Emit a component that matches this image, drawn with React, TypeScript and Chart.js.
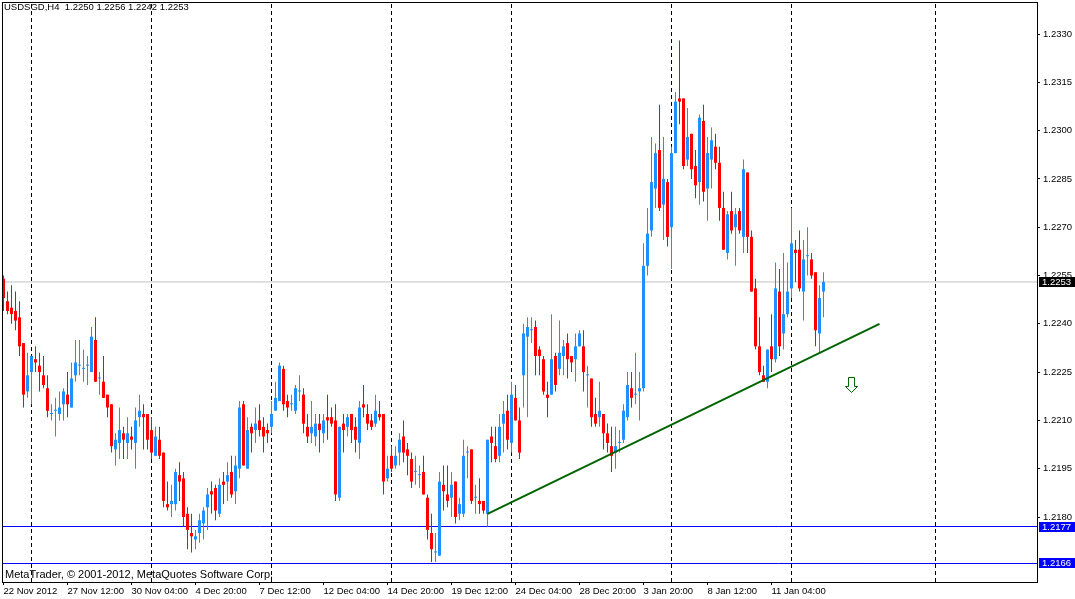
import { useEffect, useRef } from "react"
import { Chart, registerables } from "chart.js"

Chart.register(...registerables)

const symbol = "USDSGD"
const period = "H4"
const copyright = "MetaTrader, \u00a9 2001-2012, MetaQuotes Software Corp."

// H4 bars, oldest first (22 Nov 2012 20:00 ... 15 Jan 2013 04:00)
const opens = [
  1.2254, 1.2247, 1.2245, 1.2244, 1.2242, 1.2234, 1.2219, 1.2225, 1.2229, 1.2227,
  1.2224, 1.222, 1.2212, 1.2213, 1.2212, 1.2215, 1.2218, 1.2214, 1.2224, 1.2227,
  1.2226, 1.2227, 1.2225, 1.2235, 1.2223, 1.2222, 1.2218, 1.2215, 1.2201, 1.2203,
  1.2206, 1.2203, 1.2205, 1.2203, 1.2211, 1.2212, 1.2212, 1.2207, 1.2199, 1.2204,
  1.22, 1.2184, 1.2184, 1.2184, 1.2193, 1.2192, 1.2181, 1.2175, 1.2173, 1.2175,
  1.2178, 1.2183, 1.2188, 1.2189, 1.2181, 1.2191, 1.2191, 1.2194, 1.2188, 1.2195,
  1.2215, 1.2195, 1.2208, 1.2207, 1.221, 1.2208, 1.2207, 1.2208, 1.2213, 1.2216,
  1.2226, 1.2216, 1.2215, 1.2213, 1.2219, 1.2218, 1.2208, 1.2206, 1.2205, 1.2209,
  1.2206, 1.2211, 1.2211, 1.221, 1.2186, 1.2209, 1.2208, 1.2212, 1.2208, 1.2203,
  1.2215, 1.2212, 1.221, 1.2209, 1.2212, 1.2212, 1.2192, 1.2199, 1.2196, 1.22,
  1.2205, 1.2201, 1.2198, 1.2194, 1.2193, 1.2194, 1.2186, 1.2175, 1.2169, 1.2168,
  1.219, 1.2187, 1.2186, 1.2191, 1.2181, 1.2181, 1.22, 1.2201, 1.2186, 1.2185,
  1.2185, 1.2181, 1.2205, 1.2202, 1.2199, 1.2209, 1.2213, 1.2203, 1.2217, 1.221,
  1.2224, 1.2236, 1.2238, 1.2239, 1.2232, 1.2229, 1.2218, 1.2218, 1.223, 1.2226,
  1.223, 1.2234, 1.223, 1.2229, 1.2233, 1.2233, 1.2224, 1.2223, 1.2212, 1.2211,
  1.2212, 1.2206, 1.2202, 1.22, 1.2203, 1.2204, 1.2211, 1.222, 1.2218, 1.2219,
  1.222, 1.2258, 1.2269, 1.2282, 1.2294, 1.2277, 1.2284, 1.227, 1.2293, 1.231,
  1.231, 1.2291, 1.2299, 1.2289, 1.2284, 1.2303, 1.2282, 1.2291, 1.2295, 1.229,
  1.2276, 1.2262, 1.2275, 1.227, 1.2275, 1.2267, 1.2287, 1.2267, 1.2251, 1.2233,
  1.2224, 1.2222, 1.2233, 1.2229, 1.225, 1.2237, 1.2243, 1.2251, 1.2263, 1.2263,
  1.225, 1.2261, 1.226, 1.2256, 1.2237, 1.225,
]
const highs = [
  1.2255, 1.225, 1.2252, 1.225, 1.2247, 1.2234, 1.2231, 1.223, 1.2233, 1.2231,
  1.223, 1.2224, 1.2215, 1.2217, 1.2219, 1.222, 1.2225, 1.2228, 1.2235, 1.2235,
  1.2232, 1.223, 1.2239, 1.2242, 1.2225, 1.223, 1.2218, 1.2215, 1.2206, 1.2214,
  1.2208, 1.2211, 1.2208, 1.2214, 1.2218, 1.2215, 1.2212, 1.2211, 1.2208, 1.2208,
  1.22, 1.2191, 1.219, 1.2195, 1.2197, 1.2194, 1.2183, 1.2181, 1.2176, 1.2181,
  1.2183, 1.2189, 1.2191, 1.219, 1.2192, 1.2194, 1.2197, 1.2199, 1.2199, 1.2216,
  1.2216, 1.2211, 1.2209, 1.2214, 1.2215, 1.2211, 1.2209, 1.2216, 1.2222, 1.2228,
  1.2227, 1.2218, 1.2218, 1.2221, 1.2224, 1.222, 1.2212, 1.2216, 1.2212, 1.2212,
  1.2212, 1.2218, 1.2214, 1.2215, 1.2208, 1.2212, 1.2212, 1.2212, 1.2211, 1.2216,
  1.2221, 1.2215, 1.2212, 1.2218, 1.2216, 1.2212, 1.2199, 1.2202, 1.2202, 1.2206,
  1.221, 1.2203, 1.22, 1.2199, 1.2196, 1.2199, 1.2187, 1.2181, 1.2175, 1.2194,
  1.2196, 1.2196, 1.2194, 1.2191, 1.2186, 1.2204, 1.2202, 1.2201, 1.219, 1.2192,
  1.2185, 1.2204, 1.2208, 1.2208, 1.2212, 1.2216, 1.2218, 1.2222, 1.2221, 1.2214,
  1.224, 1.2242, 1.2242, 1.2241, 1.2233, 1.223, 1.2222, 1.2243, 1.2231, 1.2241,
  1.2235, 1.2237, 1.223, 1.2237, 1.2238, 1.2238, 1.2227, 1.2223, 1.2217, 1.2222,
  1.2212, 1.2209, 1.2208, 1.2208, 1.2207, 1.2215, 1.2225, 1.2225, 1.2231, 1.2225,
  1.2265, 1.2276, 1.2298, 1.2296, 1.2308, 1.2298, 1.2285, 1.2295, 1.2312, 1.2328,
  1.231, 1.2307, 1.2299, 1.2294, 1.2305, 1.2308, 1.2298, 1.2301, 1.2299, 1.2295,
  1.2281, 1.2275, 1.2281, 1.2276, 1.2276, 1.2291, 1.2287, 1.2269, 1.2254, 1.2242,
  1.2227, 1.2232, 1.2243, 1.2259, 1.2257, 1.2262, 1.2259, 1.2276, 1.2266, 1.2269,
  1.2266, 1.227, 1.2262, 1.2256, 1.2252, 1.2256,
]
const lows = [
  1.2244, 1.2243, 1.224, 1.2238, 1.223, 1.2214, 1.2217, 1.2215, 1.2225, 1.2219,
  1.222, 1.2211, 1.221, 1.2205, 1.221, 1.221, 1.2211, 1.2214, 1.2222, 1.2224,
  1.2222, 1.2221, 1.2225, 1.2222, 1.2218, 1.2217, 1.2211, 1.22, 1.2196, 1.2198,
  1.2198, 1.2198, 1.2201, 1.2195, 1.2208, 1.2201, 1.2201, 1.2198, 1.2199, 1.2198,
  1.2183, 1.2182, 1.218, 1.2182, 1.2185, 1.2177, 1.217, 1.2169, 1.217, 1.2172,
  1.2173, 1.2176, 1.2181, 1.2179, 1.218, 1.2184, 1.2185, 1.2186, 1.2184, 1.2192,
  1.2196, 1.2195, 1.22, 1.2203, 1.2205, 1.22, 1.2203, 1.2206, 1.2213, 1.2216,
  1.2213, 1.2211, 1.2213, 1.2212, 1.2216, 1.2206, 1.2203, 1.2203, 1.2202, 1.22,
  1.2203, 1.2204, 1.2208, 1.2185, 1.2185, 1.22, 1.2205, 1.2203, 1.22, 1.2198,
  1.2211, 1.2207, 1.2207, 1.2208, 1.221, 1.2187, 1.2191, 1.2194, 1.2195, 1.2196,
  1.2197, 1.2193, 1.2189, 1.219, 1.2189, 1.2187, 1.2173, 1.2166, 1.2166, 1.2168,
  1.2182, 1.2183, 1.218, 1.2178, 1.2179, 1.218, 1.2192, 1.2184, 1.2181, 1.2181,
  1.2181, 1.2177, 1.2197, 1.2197, 1.2197, 1.22, 1.2201, 1.22, 1.221, 1.2198,
  1.2214, 1.2211, 1.2234, 1.2224, 1.2224, 1.2218, 1.2211, 1.2218, 1.2219, 1.2224,
  1.2224, 1.2223, 1.2225, 1.2222, 1.2233, 1.2219, 1.2214, 1.2208, 1.2208, 1.2208,
  1.2201, 1.22, 1.2194, 1.2195, 1.22, 1.2203, 1.221, 1.2214, 1.2215, 1.221,
  1.2219, 1.2255, 1.2267, 1.2276, 1.2275, 1.2266, 1.2264, 1.2257, 1.2293, 1.2302,
  1.2288, 1.2289, 1.2285, 1.2279, 1.2277, 1.2278, 1.2272, 1.2282, 1.2288, 1.2272,
  1.2263, 1.226, 1.2268, 1.2258, 1.2268, 1.2262, 1.2262, 1.225, 1.2232, 1.2224,
  1.2222, 1.222, 1.2225, 1.2228, 1.223, 1.2232, 1.2242, 1.2248, 1.2253, 1.225,
  1.2241, 1.2255, 1.2254, 1.2233, 1.2231, 1.2242,
]
const closes = [
  1.2248, 1.2244, 1.2243, 1.2241, 1.2233, 1.2218, 1.2224, 1.223, 1.2228, 1.2225,
  1.2221, 1.2213, 1.2212, 1.2213, 1.2214, 1.2219, 1.2215, 1.2223, 1.2228, 1.2227,
  1.2226, 1.2227, 1.2236, 1.2222, 1.2223, 1.2217, 1.2214, 1.2202, 1.2204, 1.2207,
  1.2204, 1.2206, 1.2204, 1.221, 1.2213, 1.2211, 1.2204, 1.22, 1.2205, 1.2199,
  1.2185, 1.2183, 1.2185, 1.2194, 1.2191, 1.218, 1.2176, 1.2174, 1.2174, 1.2179,
  1.2182, 1.2187, 1.2187, 1.2182, 1.219, 1.219, 1.2193, 1.2187, 1.2196, 1.2214,
  1.2196, 1.2207, 1.2206, 1.2209, 1.2207, 1.2205, 1.2206, 1.2212, 1.2217, 1.2227,
  1.2215, 1.2214, 1.2215, 1.222, 1.2219, 1.2209, 1.2205, 1.2208, 1.2209, 1.2207,
  1.221, 1.221, 1.2209, 1.2187, 1.2208, 1.2207, 1.2211, 1.2207, 1.2204, 1.2214,
  1.2214, 1.2209, 1.2208, 1.2213, 1.2211, 1.2191, 1.2195, 1.2195, 1.2199, 1.2204,
  1.22, 1.2199, 1.2191, 1.2194, 1.2193, 1.2187, 1.2176, 1.217, 1.2169, 1.2191,
  1.2188, 1.2185, 1.219, 1.218, 1.2184, 1.2199, 1.22, 1.2185, 1.2186, 1.2184,
  1.2182, 1.2204, 1.2203, 1.2198, 1.2208, 1.2212, 1.2204, 1.2218, 1.221, 1.22,
  1.2237, 1.2239, 1.2238, 1.223, 1.223, 1.2219, 1.2217, 1.2229, 1.2221, 1.2231,
  1.2233, 1.2229, 1.2228, 1.2233, 1.2237, 1.2225, 1.2224, 1.2211, 1.2209, 1.2213,
  1.2206, 1.2203, 1.2199, 1.2202, 1.2203, 1.2213, 1.2221, 1.2217, 1.2218, 1.222,
  1.2258, 1.2268, 1.2284, 1.2293, 1.2276, 1.2285, 1.2267, 1.2293, 1.2309, 1.2309,
  1.2289, 1.2298, 1.2288, 1.2283, 1.2304, 1.2281, 1.2293, 1.2297, 1.229, 1.2276,
  1.2263, 1.2274, 1.2269, 1.2274, 1.2269, 1.2288, 1.2267, 1.225, 1.2233, 1.2225,
  1.2222, 1.2232, 1.2229, 1.2251, 1.2233, 1.2243, 1.225, 1.2265, 1.2262, 1.2251,
  1.226, 1.2261, 1.2255, 1.2238, 1.2248, 1.2253,
]

// time axis labels (bar index -> text)
const labelBars = [0, 16, 32, 48, 64, 80, 96, 112, 128, 144, 160, 176, 192]
const dateLabels = [
  "22 Nov 2012", "27 Nov 12:00", "30 Nov 04:00", "4 Dec 20:00", "7 Dec 12:00",
  "12 Dec 04:00", "14 Dec 20:00", "19 Dec 12:00", "24 Dec 04:00", "28 Dec 20:00",
  "3 Jan 20:00", "8 Jan 12:00", "11 Jan 04:00",
]
const priceTicks = [1.218, 1.2195, 1.221, 1.2225, 1.224, 1.2255, 1.227, 1.2285, 1.23, 1.2315, 1.233]

// weekly period separators (bar index)
const separatorBars = [7, 37, 67, 97, 127, 167, 197, 233]
// horizontal lines
const levelLines = [1.217705, 1.216556]
// trend line and arrow
const trendStart = { x: 121, y: 1.2181 }
const trendEnd = { x: 219, y: 1.224 }
const arrowPoint = { x: 212, y: 1.2221 }

const X_MIN = -0.375
const X_MAX = 258.375
const Y_MIN = 1.2159814
const Y_MAX = 1.2339938

const BULL = "#1E90FF"
const BEAR = "#FF0000"
const FONT = '"Liberation Sans", Arial, sans-serif'

const overlayPlugin = {
  id: "mtOverlay",
  afterDraw(chart: any) {
    const { ctx, chartArea: a, scales } = chart
    const last = closes.length - 1
    ctx.save()
    ctx.strokeStyle = "#000"
    ctx.lineWidth = 1
    ctx.strokeRect(a.left + 0.5, a.top + 0.5, a.right - a.left, a.bottom - a.top)

    ctx.fillStyle = "#000"
    ctx.textAlign = "left"
    ctx.textBaseline = "alphabetic"
    ctx.font = `9.5px ${FONT}`
    const head = `${symbol},${period}  ${opens[last].toFixed(4)} ${highs[last].toFixed(4)} ${lows[last].toFixed(4)} ${closes[last].toFixed(4)}`
    ctx.fillText(head, a.left + 2, a.top + 8)
    ctx.font = `11px ${FONT}`
    ctx.fillText(copyright, a.left + 3, a.bottom - 4.5)

    // price tags on the axis
    const tags = [
      { value: closes[last], bg: "#000000" },
      ...levelLines.map((v) => ({ value: v, bg: "#0000FF" })),
    ]
    ctx.font = `9.5px ${FONT}`
    ctx.textBaseline = "middle"
    tags.forEach(({ value, bg }) => {
      const y = Math.round(scales.y.getPixelForValue(value))
      ctx.fillStyle = bg
      ctx.fillRect(a.right + 2, y - 5, chart.width - a.right - 2, 10)
      ctx.fillStyle = "#fff"
      ctx.fillText(value.toFixed(4), a.right + 5, y + 0.5)
    })
    ctx.restore()
  },
}

export default function App() {
  const chartRef = useRef<HTMLCanvasElement>(null)
  const chartInstance = useRef<Chart | null>(null)

  useEffect(() => {
    if (!chartRef.current) return
    if (chartInstance.current) chartInstance.current.destroy()

    // hollow down arrow used as point style
    const arrow = document.createElement("canvas")
    arrow.width = 13
    arrow.height = 16
    const actx = arrow.getContext("2d")
    if (actx) {
      actx.beginPath()
      actx.moveTo(3.5, 0.5)
      actx.lineTo(9.5, 0.5)
      actx.lineTo(9.5, 9.5)
      actx.lineTo(12.5, 9.5)
      actx.lineTo(6.5, 15.5)
      actx.lineTo(0.5, 9.5)
      actx.lineTo(3.5, 9.5)
      actx.closePath()
      actx.fillStyle = "#fff"
      actx.fill()
      actx.strokeStyle = "#006400"
      actx.lineWidth = 1
      actx.stroke()
    }

    const colors = opens.map((o, i) => (closes[i] >= o ? BULL : BEAR))
    const wicks = opens.map((_, i) => ({ x: i, y: [lows[i], highs[i]] }))
    const bodies = opens.map((o, i) => ({ x: i, y: [o, closes[i]] }))
    const separators = separatorBars.flatMap((b) => [
      { x: b, y: Y_MIN },
      { x: b, y: Y_MAX },
      { x: b, y: null },
    ])

    chartInstance.current = new Chart(chartRef.current, {
      type: "bar",
      data: {
        datasets: [
          {
            type: "line",
            data: separators,
            borderColor: "#000",
            borderWidth: 1,
            borderDash: [4, 3],
            pointRadius: 0,
            spanGaps: false,
            order: 6,
          },
          {
            type: "line",
            data: [
              { x: X_MIN, y: closes[closes.length - 1] },
              { x: X_MAX, y: closes[closes.length - 1] },
            ],
            borderColor: "#C0C0C0",
            borderWidth: 1,
            pointRadius: 0,
            order: 5,
          },
          ...levelLines.map((v) => ({
            type: "line",
            data: [
              { x: X_MIN, y: v },
              { x: X_MAX, y: v },
            ],
            borderColor: "#0000FF",
            borderWidth: 1,
            pointRadius: 0,
            order: 5,
          })),
          {
            type: "bar",
            data: wicks,
            backgroundColor: colors,
            barThickness: 1,
            grouped: false,
            borderWidth: 0,
            inflateAmount: 0,
            order: 4,
          },
          {
            type: "bar",
            data: bodies,
            backgroundColor: colors,
            barThickness: 3,
            grouped: false,
            borderWidth: 0,
            inflateAmount: 0,
            minBarLength: 1,
            order: 3,
          },
          {
            type: "line",
            data: [trendStart, trendEnd],
            borderColor: "#006400",
            borderWidth: 2,
            pointRadius: 0,
            order: 2,
          },
          {
            type: "line",
            data: [arrowPoint],
            showLine: false,
            pointStyle: arrow,
            pointRadius: 6,
            order: 1,
          },
        ],
      } as any,
      options: {
        animation: false,
        responsive: false,
        maintainAspectRatio: false,
        layout: { autoPadding: false, padding: { left: 2, top: 2, right: 0, bottom: 0 } },
        plugins: {
          legend: { display: false },
          tooltip: { enabled: false },
        },
        scales: {
          x: {
            type: "linear",
            min: X_MIN,
            max: X_MAX,
            bounds: "data",
            offset: false,
            afterBuildTicks: (s: any) => {
              s.ticks = labelBars.map((v) => ({ value: v }))
            },
            afterFit: (s: any) => {
              s.height = 17
              s.paddingLeft = 0
              s.paddingRight = 0
            },
            grid: { drawOnChartArea: false, offset: false, tickLength: 3, tickColor: "#000" },
            border: { display: true, color: "#000" },
            ticks: {
              align: "start",
              autoSkip: false,
              maxRotation: 0,
              padding: 1,
              color: "#000",
              font: { family: FONT, size: 9.5 },
              callback: (_v: any, i: number) => dateLabels[i],
            },
          },
          y: {
            type: "linear",
            position: "right",
            min: Y_MIN,
            max: Y_MAX,
            bounds: "data",
            afterBuildTicks: (s: any) => {
              s.ticks = priceTicks.map((v) => ({ value: v }))
            },
            afterFit: (s: any) => {
              s.width = 38
              s.paddingTop = 0
              s.paddingBottom = 0
            },
            grid: { drawOnChartArea: false, tickLength: 3, tickColor: "#000" },
            border: { display: true, color: "#000" },
            ticks: {
              autoSkip: false,
              padding: 3,
              color: "#000",
              font: { family: FONT, size: 9.5 },
              callback: (v: any) => Number(v).toFixed(4),
            },
          },
        },
      } as any,
      plugins: [overlayPlugin],
    })

    return () => {
      if (chartInstance.current) {
        chartInstance.current.destroy()
        chartInstance.current = null
      }
    }
  }, [])

  return (
    <div style={{ position: "absolute", left: 0, top: 0, width: 1075, height: 599, background: "#fff" }}>
      <canvas ref={chartRef} width={1075} height={599} style={{ display: "block" }} />
    </div>
  )
}
